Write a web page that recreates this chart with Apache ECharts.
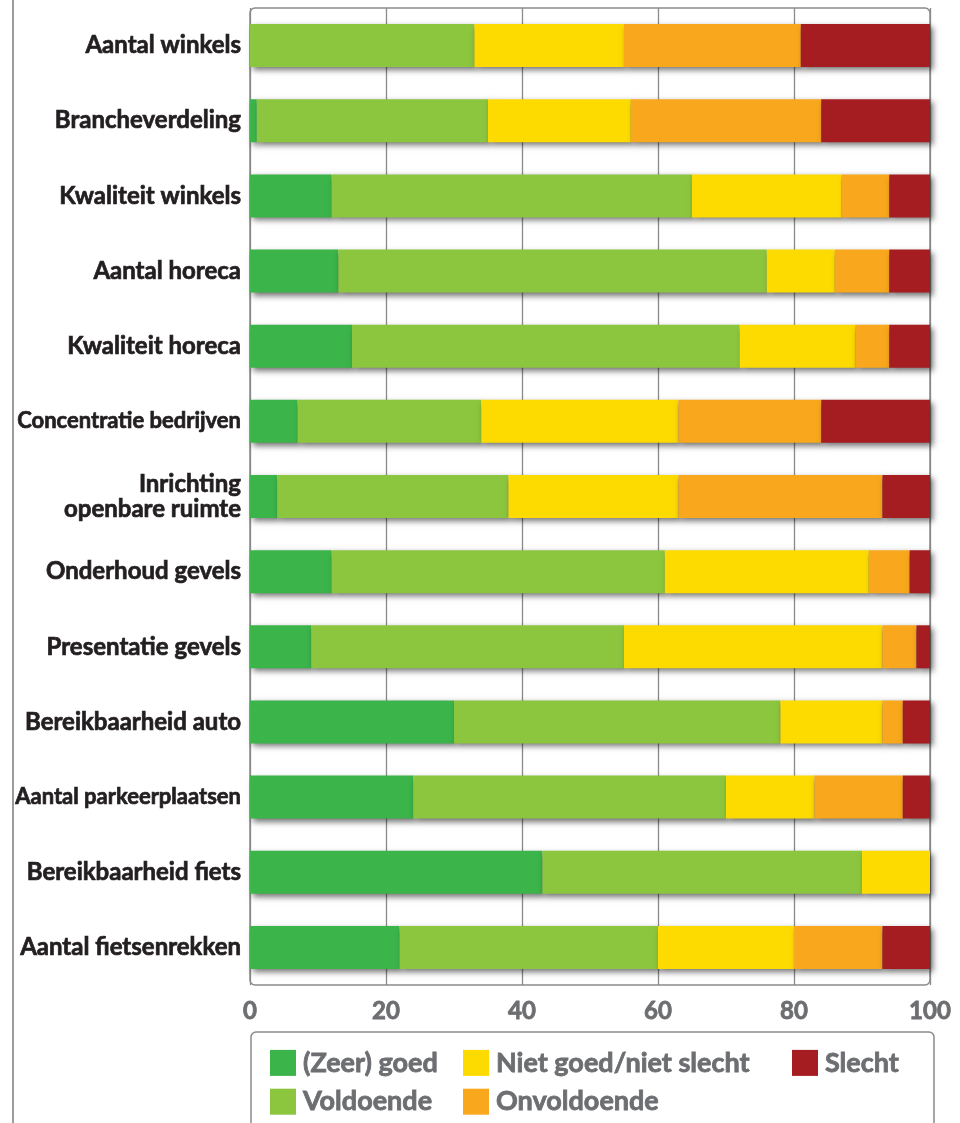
<!DOCTYPE html>
<html>
<head>
<meta charset="utf-8">
<script src="https://cdn.jsdelivr.net/npm/echarts@6/dist/echarts.min.js"></script>
<style>
  html, body { margin: 0; padding: 0; background: #ffffff; }
  #chart { width: 960px; height: 1123px; }
</style>
</head>
<body>
<div id="chart"></div>
<script>
// Beoordeling van het centrum, per aspect (percentages)
const categories = [
  'Aantal winkels',
  'Brancheverdeling',
  'Kwaliteit winkels',
  'Aantal horeca',
  'Kwaliteit horeca',
  'Concentratie bedrijven',
  'Inrichting\nopenbare ruimte',
  'Onderhoud gevels',
  'Presentatie gevels',
  'Bereikbaarheid auto',
  'Aantal parkeerplaatsen',
  'Bereikbaarheid fiets',
  'Aantal fietsenrekken'
];

// the two longest labels are set a little tighter so they fit the margin
const compactLabels = ['Concentratie bedrijven', 'Aantal parkeerplaatsen'];

const seriesNames = ['(Zeer) goed', 'Voldoende', 'Niet goed/niet slecht', 'Onvoldoende', 'Slecht'];

const zeerGoed    = [0, 1, 12, 13, 15, 7, 4, 12, 9, 30, 24, 43, 22];
const voldoende   = [33, 34, 53, 63, 57, 27, 34, 49, 46, 48, 46, 47, 38];
const nietGoed    = [22, 21, 22, 10, 17, 29, 25, 30, 38, 15, 13, 10, 20];
const onvoldoende = [26, 28, 7, 8, 5, 21, 30, 6, 5, 3, 13, 0, 13];
const slecht      = [19, 16, 6, 6, 6, 16, 7, 3, 2, 4, 4, 0, 7];

const xTicks = [0, 20, 40, 60, 80, 100];

const colors = ['#3bb44a', '#8cc63f', '#fddb00', '#f9a81d', '#a51c21'];
const values = [zeerGoed, voldoende, nietGoed, onvoldoende, slecht];

const chart = echarts.init(document.getElementById('chart'), null, { renderer: 'canvas' });

const GRID = { left: 250, top: 8, width: 680, height: 977 };
const FONT = 'Lato';
const GREY_TEXT = '#6d6e71';
const DARK_TEXT = '#231f20';

const labelText = {
  color: DARK_TEXT,
  fontFamily: FONT,
  fontWeight: 'bold',
  textBorderColor: DARK_TEXT,
  textBorderWidth: 0.7
};

const legendBase = {
  orient: 'vertical',
  top: 1049,
  padding: 0,
  itemWidth: 26,
  itemHeight: 26,
  itemGap: 11,
  icon: 'rect',
  selectedMode: false,
  itemStyle: { shadowBlur: 0, shadowOffsetX: 0, shadowOffsetY: 0, shadowColor: 'rgba(0,0,0,0)' },
  textStyle: {
    color: GREY_TEXT,
    fontFamily: FONT,
    fontWeight: 'bold',
    fontSize: 27,
    textBorderColor: GREY_TEXT,
    textBorderWidth: 0.8,
    padding: [0, 0, 0, 2]
  }
};

const option = {
  animation: false,
  backgroundColor: '#ffffff',
  grid: {
    left: GRID.left,
    top: GRID.top,
    width: GRID.width,
    height: GRID.height,
    containLabel: false
  },
  legend: [
    Object.assign({}, legendBase, { left: 270, data: ['(Zeer) goed', 'Voldoende'] }),
    Object.assign({}, legendBase, { left: 463, data: ['Niet goed/niet slecht', 'Onvoldoende'] }),
    Object.assign({}, legendBase, { left: 792, data: ['Slecht'] })
  ],
  xAxis: {
    type: 'value',
    min: xTicks[0],
    max: xTicks[xTicks.length - 1],
    interval: xTicks[1] - xTicks[0],
    axisLine: { show: false },
    axisTick: { show: false },
    splitLine: { show: true, lineStyle: { color: '#8a8a8a', width: 1.3 } },
    axisLabel: {
      margin: 14,
      color: GREY_TEXT,
      fontFamily: FONT,
      fontWeight: 'bold',
      fontSize: 24,
      textBorderColor: GREY_TEXT,
      textBorderWidth: 0.8,
      formatter: v => String(v)
    }
  },
  yAxis: {
    type: 'category',
    inverse: true,
    data: categories,
    axisLine: { show: false },
    axisTick: { show: false },
    splitLine: { show: false },
    axisLabel: Object.assign({}, labelText, {
      margin: 9,
      fontSize: 24,
      lineHeight: 25,
      align: 'right',
      formatter: v => compactLabels.includes(v) ? '{c|' + v + '}' : v,
      rich: {
        c: Object.assign({}, labelText, { fontSize: 22, lineHeight: 25, align: 'right' })
      }
    })
  },
  graphic: [
    {
      type: 'line',
      silent: true,
      shape: { x1: 13, y1: 0, x2: 13, y2: 1123 },
      style: { stroke: '#7a7a7a', lineWidth: 1.5 },
      z: 0
    },
    {
      type: 'rect',
      silent: true,
      shape: { x: GRID.left, y: GRID.top, width: GRID.width, height: GRID.height, r: 5 },
      style: { fill: null, stroke: '#8a8a8a', lineWidth: 1.5 },
      z: 0
    },
    {
      type: 'rect',
      silent: true,
      shape: { x: 251, y: 1032, width: 683, height: 130, r: 5 },
      style: { fill: null, stroke: '#8a8a8a', lineWidth: 1.5 },
      z: 0
    }
  ],
  series: seriesNames.map((name, i) => ({
    name: name,
    type: 'bar',
    stack: 'totaal',
    barWidth: 43,
    data: values[i],
    itemStyle: {
      color: colors[i],
      shadowColor: 'rgba(0,0,0,0.55)',
      shadowBlur: 6,
      shadowOffsetX: 3,
      shadowOffsetY: 3
    },
    emphasis: { disabled: true }
  }))
};

chart.setOption(option);
</script>
</body>
</html>
